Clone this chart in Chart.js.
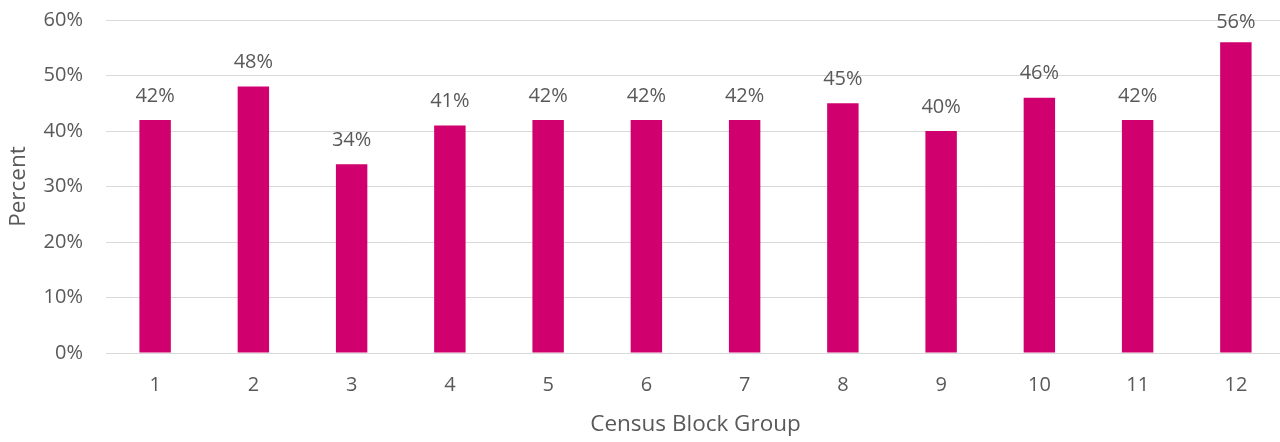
<!DOCTYPE html>
<html>
<head>
<meta charset="utf-8">
<script src="https://cdn.jsdelivr.net/npm/chart.js@4/dist/chart.umd.min.js"></script>
<style>
  html, body { margin: 0; padding: 0; background: #fff; overflow: hidden; }
  canvas { display: block; }
</style>
</head>
<body>
<canvas id="blockGroupChart" width="1285" height="442"></canvas>
<script>
const categories = ["1", "2", "3", "4", "5", "6", "7", "8", "9", "10", "11", "12"];
const percents = [42, 48, 34, 41, 42, 42, 42, 45, 40, 46, 42, 56];
const yTicks = [0, 10, 20, 30, 40, 50, 60];

const barColor = '#D0006F';
const textColor = '#595959';
const fontFamily = "'Open Sans', sans-serif";

// draws the "42%" labels above each bar, kept inside the canvas top
const valueLabels = {
  id: 'valueLabels',
  afterDatasetsDraw(chart) {
    const ctx = chart.ctx;
    const meta = chart.getDatasetMeta(0);
    ctx.save();
    ctx.fillStyle = textColor;
    ctx.font = "20px " + fontFamily;
    ctx.textAlign = 'center';
    ctx.textBaseline = 'middle';
    meta.data.forEach(function (bar, i) {
      ctx.fillText(percents[i] + '%', bar.x, Math.max(bar.y - 24, 22));
    });
    ctx.restore();
  }
};

var chart = new Chart(document.getElementById("blockGroupChart"), {
  type: 'bar',
  data: {
    labels: categories,
    datasets: [{
      data: percents,
      backgroundColor: barColor,
      barPercentage: 0.32,
      categoryPercentage: 1.0
    }]
  },
  options: {
    responsive: false,
    animation: false,
    layout: { padding: { top: 20, right: 0, left: 0, bottom: 0 } },
    plugins: {
      legend: { display: false },
      tooltip: { enabled: false }
    },
    scales: {
      x: {
        offset: true,
        grid: { display: false },
        border: { display: false },
        ticks: { color: textColor, font: { family: fontFamily, size: 20 }, padding: 12 },
        title: {
          display: true,
          text: 'Census Block Group',
          color: textColor,
          font: { family: fontFamily, size: 22.5 },
          padding: { top: 0, bottom: 4 }
        },
        afterFit: function (scale) { scale.height = 89; }
      },
      y: {
        min: 0,
        max: 60,
        afterBuildTicks: function (scale) {
          scale.ticks = yTicks.map(function (v) { return { value: v }; });
        },
        grid: { color: '#D9D9D9', lineWidth: 1, drawTicks: false },
        border: { display: false },
        ticks: {
          color: textColor,
          font: { family: fontFamily, size: 20 },
          padding: 23,
          callback: function (v) { return v + '%'; }
        },
        title: {
          display: true,
          text: 'Percent',
          color: textColor,
          font: { family: fontFamily, size: 22.5 },
          padding: { top: 5, bottom: 0 }
        },
        afterFit: function (scale) {
          scale.width = 106;
          scale.paddingTop = 0;
          scale.paddingBottom = 0;
        }
      }
    }
  },
  plugins: [valueLabels]
});
</script>
</body>
</html>
